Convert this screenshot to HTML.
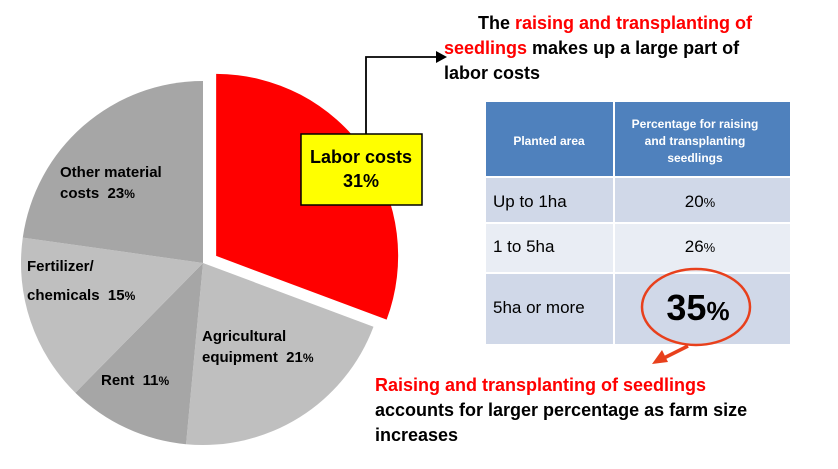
<!DOCTYPE html>
<html><head><meta charset="utf-8"><style>
body{margin:0;width:838px;height:469px;background:#fff;font-family:"Liberation Sans",Arial,sans-serif;overflow:hidden}
</style></head><body>
<svg width="838" height="469" style="position:absolute;left:0;top:0">
<g id="pie"></g>
<rect x="301" y="134" width="121" height="71" fill="#ffff00" stroke="#000" stroke-width="1.5"/>
<text x="361" y="163" font-size="18" font-weight="bold" text-anchor="middle">Labor costs</text>
<text x="361" y="187" font-size="18" font-weight="bold" text-anchor="middle">31%</text>
<polyline points="366,134 366,57 440,57" fill="none" stroke="#000" stroke-width="1.8"/>
<polygon points="447,57 436,51 436,63" fill="#000"/>
<g font-size="15" font-weight="bold">
<text x="60" y="177">Other material</text><text x="60" y="198">costs&#160;&#160;23<tspan font-size="12">%</tspan></text>
<text x="27" y="219" dy="52">Fertilizer/</text><text x="27" y="300">chemicals&#160;&#160;15<tspan font-size="12">%</tspan></text>
<text x="101" y="385">Rent&#160;&#160;11<tspan font-size="12">%</tspan></text>
<text x="202" y="341">Agricultural</text><text x="202" y="362">equipment&#160;&#160;21<tspan font-size="12">%</tspan></text>
</g>
<g font-size="18" font-weight="bold">
<text x="478" y="29">The <tspan fill="#ff0000">raising and transplanting of</tspan></text>
<text x="444" y="54"><tspan fill="#ff0000">seedlings</tspan> makes up a large part of</text>
<text x="444" y="79">labor costs</text>
</g>
<g>
<rect x="486" y="102" width="127" height="74" fill="#4f81bd"/>
<rect x="615" y="102" width="175" height="74" fill="#4f81bd"/>
<rect x="486" y="178" width="127" height="44" fill="#d0d8e8"/><rect x="615" y="178" width="175" height="44" fill="#d0d8e8"/>
<rect x="486" y="224" width="127" height="48" fill="#e9edf4"/><rect x="615" y="224" width="175" height="48" fill="#e9edf4"/>
<rect x="486" y="274" width="127" height="70" fill="#d0d8e8"/><rect x="615" y="274" width="175" height="70" fill="#d0d8e8"/>
<g fill="#fff" font-size="12" font-weight="bold" text-anchor="middle">
<text x="549" y="145">Planted area</text>
<text x="695" y="128">Percentage for raising</text>
<text x="695" y="145">and transplanting</text>
<text x="695" y="162">seedlings</text>
</g>
<g font-size="17" fill="#000">
<text x="493" y="207">Up to 1ha</text><text x="493" y="252">1 to 5ha</text><text x="493" y="313">5ha or more</text>
<text x="700" y="207" text-anchor="middle">20<tspan font-size="13">%</tspan></text>
<text x="700" y="252" text-anchor="middle">26<tspan font-size="13">%</tspan></text>
<text x="698" y="320" text-anchor="middle" font-size="36" font-weight="bold">35<tspan font-size="26">%</tspan></text>
</g>
</g>
<ellipse cx="696" cy="307" rx="54" ry="38" fill="none" stroke="#e8401c" stroke-width="2.5"/>
<line x1="688" y1="346" x2="662" y2="359" stroke="#e8401c" stroke-width="3.5"/>
<polygon points="652,364 662,350 668,362" fill="#e8401c"/>
<g font-size="18" font-weight="bold">
<text x="375" y="391" fill="#ff0000">Raising and transplanting of seedlings</text>
<text x="375" y="416">accounts for larger percentage as farm size</text>
<text x="375" y="441">increases</text>
</g>
</svg>
<script>
const categories=["Labor costs","Agricultural equipment","Rent","Fertilizer/chemicals","Other material costs"];
const shares=[31,21,11,15,23];
const colors=["#ff0000","#bfbfbf","#a6a6a6","#bfbfbf","#a6a6a6"];
const cx=203,cy=263,r=182,explode=16;
const total=shares.reduce((a,b)=>a+b,0);
const g=document.getElementById('pie');
let a0=0;
shares.forEach((v,i)=>{
  const a1=a0+v/total*2*Math.PI;
  let ox=0,oy=0;
  if(i===0){const m=(a0+a1)/2;ox=explode*Math.sin(m);oy=-explode*Math.cos(m)*0.6-explode*0.1;}
  const x0=cx+ox+r*Math.sin(a0),y0=cy+oy-r*Math.cos(a0),x1=cx+ox+r*Math.sin(a1),y1=cy+oy-r*Math.cos(a1);
  const p=document.createElementNS('http://www.w3.org/2000/svg','path');
  p.setAttribute('d',`M${cx+ox},${cy+oy}L${x0},${y0}A${r},${r} 0 ${a1-a0>Math.PI?1:0} 1 ${x1},${y1}Z`);
  p.setAttribute('fill',colors[i]);
  
  
  g.appendChild(p);
  a0=a1;
});
</script>
</body></html>
